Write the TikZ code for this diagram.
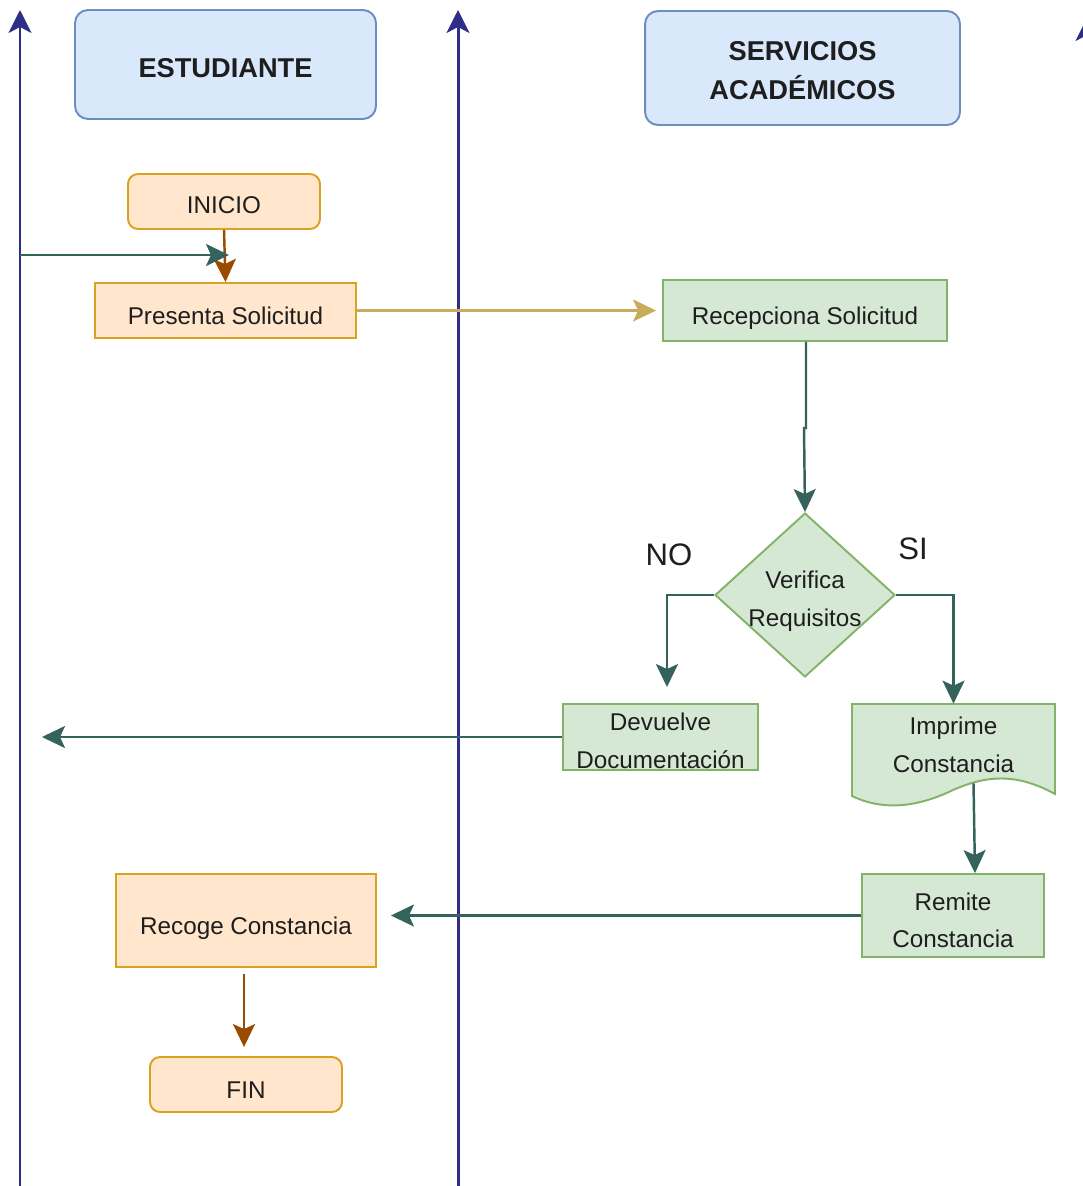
\documentclass[tikz,border=0pt]{standalone}
\usepackage{fontspec}
\setmainfont{Liberation Sans}
\usetikzlibrary{arrows.meta,shapes.geometric,calc}
\definecolor{laneblue}{HTML}{2E2E88}
\definecolor{teal}{HTML}{33635A}
\definecolor{brownar}{HTML}{994C00}
\definecolor{goldar}{HTML}{C9AC5B}
\definecolor{bluefill}{HTML}{DAE8FC}
\definecolor{bluedraw}{HTML}{6C8EBF}
\definecolor{orfill}{HTML}{FFE6CC}
\definecolor{ordraw}{HTML}{D9A21F}
\definecolor{grfill}{HTML}{D5E8D4}
\definecolor{grdraw}{HTML}{82B366}
\definecolor{txt}{HTML}{1E1E1E}
% draw node text lower by #1 without changing the box size
\newcommand\dn[2][0.1cm]{\raisebox{-#1}[\height][\depth]{#2}}
% two-line text, lowered by #1, with a box slimmer than the tabular struts
\newcommand\dnn[3][0.1cm]{\raisebox{-#1}[\dimexpr\height-0.25cm\relax][\dimexpr\depth-0.25cm\relax]{\begin{tabular}{@{}c@{}}#2\\#3\end{tabular}}}
\tikzset{
  lane/.style={draw=laneblue, line width=1.7pt, -{Stealth[length=0.46cm,width=0.46cm,inset=0.12cm]}},
  conn/.style={line width=1.4pt, -{Stealth[length=0.46cm,width=0.44cm,inset=0.1cm]}},
  tealar/.style={conn, draw=teal},
  brownarr/.style={conn, draw=brownar},
  goldarr/.style={conn, draw=goldar},
  body/.style={font=\fontsize{13.8pt}{21.5pt}\selectfont, text=txt, align=center},
  header/.style={draw=bluedraw, fill=bluefill, line width=1.1pt, rounded corners=0.26cm,
     font=\fontsize{15.5pt}{22.7pt}\selectfont\bfseries, text=txt, align=center},
  orbox/.style={body, draw=ordraw, fill=orfill, line width=1.1pt},
  orround/.style={orbox, rounded corners=0.2cm},
  grbox/.style={body, draw=grdraw, fill=grfill, line width=1.1pt},
  lbl/.style={font=\fontsize{17.7pt}{20pt}\selectfont, text=txt}
}
\begin{document}
\begin{tikzpicture}[x=0.02cm,y=-0.02cm]
\useasboundingbox (0,0) rectangle (1082,1186);
% swimlane lines
\coordinate (l1b) at (20,1190);
\coordinate (l1t) at (20,10);
\coordinate (l2b) at (458,1190);
\coordinate (l2t) at (458,10);
\coordinate (l3b) at (1087,1190);
\coordinate (l3t) at (1087,18);
\draw[lane] (l1b) -- (l1t);
\draw[lane] (l2b) -- (l2t);
\draw[lane] (l3b) -- (l3t);
% headers
\node[header, minimum width=6.02cm, minimum height=2.18cm] (est) at (225.5,64.5) {\dn[0.08cm]{ESTUDIANTE}};
\node[header, minimum width=6.30cm, minimum height=2.28cm] (serv) at (802.5,68) {\dnn[0.08cm]{SERVICIOS}{ACADÉMICOS}};
% student lane
\node[orround, minimum width=3.84cm, minimum height=1.10cm] (ini) at (224,201.5) {\dn[0.08cm]{INICIO}};
\node[orbox, minimum width=5.22cm, minimum height=1.10cm] (pres) at (225.5,310.5) {\dn{Presenta Solicitud}};
\node[orbox, minimum width=5.20cm, minimum height=1.86cm] (rcg) at (246,920.5) {\dn[0.16cm]{Recoge Constancia}};
\node[orround, minimum width=3.84cm, minimum height=1.10cm] (fin) at (246,1084.5) {\dn[0.12cm]{FIN}};
% services lane
\node[grbox, minimum width=5.68cm, minimum height=1.22cm] (rec) at (805,310.5) {\dn[0.16cm]{Recepciona Solicitud}};
\node[grbox, diamond, aspect=1.1, inner sep=0pt, minimum width=3.6cm, minimum height=3.28cm] (ver) at (805,595) {\dnn[0.1cm]{Verifica}{Requisitos}};
\node[grbox, minimum width=3.90cm, minimum height=1.32cm, inner sep=0pt] (dev) at (660.5,737) {\dnn[0.1cm]{Devuelve}{Documentación}};
% document shape
\fill[grfill] (852,704) -- (1055,704) -- (1055,794)
   .. controls (1015,772) and (985,776) .. (953,790)
   .. controls (920,806) and (885,812) .. (852,796) -- cycle;
\draw[grdraw, line width=1.1pt] (852,704) -- (1055,704) -- (1055,794)
   .. controls (1015,772) and (985,776) .. (953,790)
   .. controls (920,806) and (885,812) .. (852,796) -- cycle;
\node[body, minimum width=4.06cm, minimum height=1.64cm] (imp) at (953.5,745) {\dnn[0.02cm]{Imprime}{Constancia}};
\node[grbox, minimum width=3.64cm, minimum height=1.66cm] (rem) at (953,915.5) {\dnn[0.12cm]{Remite}{Constancia}};
% labels
\node[lbl] (no) at (669,555) {NO};
\node[lbl] (si) at (913,549) {SI};
% connectors
\coordinate (g0) at (20,255);
\coordinate (g1) at (229,255);
\coordinate (j1) at (806,428);
\coordinate (j2) at (804,428);
\draw[brownarr] (ini.south) -- (pres.north);
\draw[tealar] (g0) -- (g1);
\draw[goldarr] (pres.east) -- ($(rec.west)+(-6,0)$);
\draw[tealar] (rec.south -| j1) -- (j1) -- (j2) -- (ver.north);
\draw[tealar] (ver.west) -| ($(dev.north)+(6.5,-16)$);
\draw[tealar] (ver.east) -| (imp.north);
\coordinate (d1) at (42,737);
\draw[tealar] (dev.west) -- (d1);
\draw[tealar] ($(imp.south)+(20,-3)$) -- ($(rem.north)+(22,0)$);
\draw[tealar] (rem.west) -- ($(rcg.east |- rem.west)+(14,0)$);
\draw[brownarr] ($(rcg.south)+(-2,6)$) -- ($(fin.north)+(-2,-9)$);
\end{tikzpicture}
\end{document}
